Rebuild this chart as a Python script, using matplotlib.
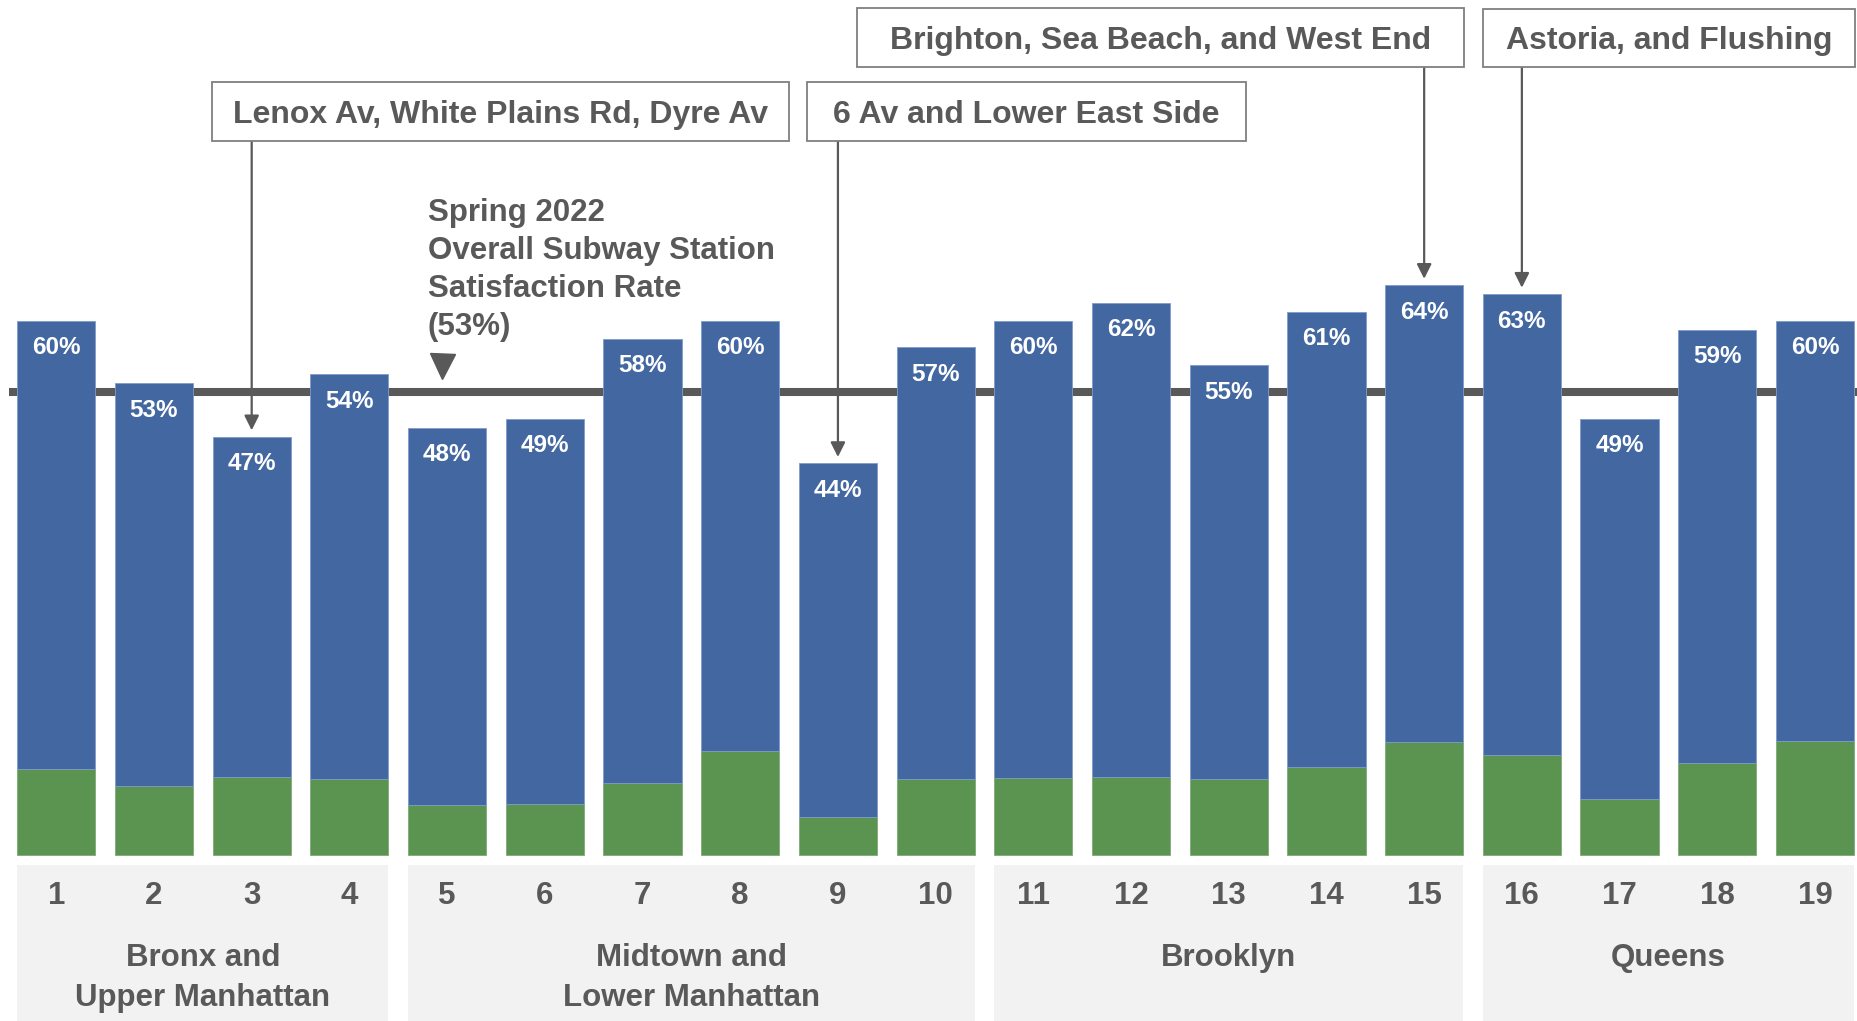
import matplotlib.pyplot as plt
from matplotlib.patches import Rectangle

plt.rcParams['font.family'] = ['Liberation Sans', 'DejaVu Sans']

# Data
lines = list(range(1, 20))
total_pct = [60, 53, 47, 54, 48, 49, 58, 60, 44, 57, 60, 62, 55, 61, 64, 63, 49, 59, 60]
green_part = [9.7, 7.75, 8.75, 8.55, 5.6, 5.75, 8.15, 11.65, 4.35, 8.6,
              8.65, 8.75, 8.6, 9.9, 12.7, 11.3, 6.3, 10.4, 12.8]
groups = ["Bronx and\nUpper Manhattan", "Midtown and\nLower Manhattan", "Brooklyn", "Queens"]
group_ranges = [(1, 4), (5, 10), (11, 15), (16, 19)]
avg_rate = 53
avg_label = ["Spring 2022", "Overall Subway Station", "Satisfaction Rate", "(%d%%)" % avg_rate]
callouts = ["Lenox Av, White Plains Rd, Dyre Av", "6 Av and Lower East Side",
            "Brighton, Sea Beach, and West End", "Astoria, and Flushing"]
callout_bars = [3, 9, 15, 16]

BLUE = '#4267A1'
GREEN = '#5B9450'
GREY = '#595959'
PANEL = '#F2F2F2'

W, H = 1857, 1021
fig = plt.figure(figsize=(W / 100, H / 100), dpi=100)
ax = fig.add_axes([0, 0, 1, 1])
ax.set_xlim(0.424, 19.43)
ax.set_ylim(-(H - 855.3) / 8.91, 855.3 / 8.91)
ax.axis('off')


def y_of(px):
    # pixel row (from top) -> data y
    return ax.transData.inverted().transform((0, H - px))[1]


bw = 0.8
blue_part = [t - g for t, g in zip(total_pct, green_part)]

# average line (behind bars)
avg_y = y_of(391.7)
ax.plot([0.424 + 9 / 97.7, 19.43], [avg_y, avg_y], color=GREY, lw=5.8,
        solid_capstyle='butt', zorder=1)

ax.bar(lines, green_part, width=bw, color=GREEN, edgecolor='#7FA876', linewidth=0.6, zorder=2)
ax.bar(lines, blue_part, bottom=green_part, width=bw, color=BLUE, edgecolor='#7F9CC9',
       linewidth=0.6, zorder=2)

for x, t in zip(lines, total_pct):
    ax.annotate(f"{t}%", (x, t), xytext=(0, -19.5), textcoords='offset points',
                ha='center', va='center', color='white', fontsize=17.5, fontweight='bold', zorder=3)

# group panels under bars
for name, (a, b) in zip(groups, group_ranges):
    ax.add_patch(Rectangle((a - bw / 2, -30), (b - a) + bw, 30 + y_of(865),
                           facecolor=PANEL, edgecolor='none', zorder=0))
    ty = y_of(978) if '\n' in name else y_of(957.8)
    ax.text((a + b) / 2, ty, name, ha='center', va='center', color=GREY,
            fontsize=22.5, fontweight='bold', linespacing=1.4)
for x in lines:
    ax.text(x, y_of(896.2), str(x), ha='center', va='center', color=GREY,
            fontsize=22.5, fontweight='bold')

# average label, one text per line
for i, s in enumerate(avg_label):
    ax.text(4.8, y_of(220.5 + i * 38.3), s, ha='left', va='baseline', color=GREY,
            fontsize=22.5, fontweight='bold')
ax.plot([4.95], [y_of(366)], marker='v', markersize=18, color=GREY, zorder=3)

# callout boxes (pixel boxes: x0, x1, y_top, y_bottom)
boxes = [(212, 789, 82, 141), (807, 1246, 82, 141), (857, 1464, 8, 67), (1483, 1855, 9, 67)]
for text, bi, (x0, x1, yt, yb) in zip(callouts, callout_bars, boxes):
    fx0, fx1 = x0 / W, x1 / W
    fy0, fy1 = 1 - yb / H, 1 - yt / H
    fig.patches.append(Rectangle((fx0, fy0), fx1 - fx0, fy1 - fy0, transform=fig.transFigure,
                                 facecolor='white', edgecolor='#7F7F7F', linewidth=1.3))
    fig.text((fx0 + fx1) / 2, (fy0 + fy1) / 2, text, ha='center', va='center_baseline',
             color=GREY, fontsize=23, fontweight='bold')
    # arrow from box bottom to bar top
    ax.annotate('', xy=(bi, total_pct[bi - 1] + 0.7), xytext=(bi, y_of(yb)),
                arrowprops=dict(arrowstyle='-|>', color=GREY, lw=1.6,
                                mutation_scale=22, shrinkA=0, shrinkB=0), zorder=3)

fig.savefig('out.png', dpi=100)
